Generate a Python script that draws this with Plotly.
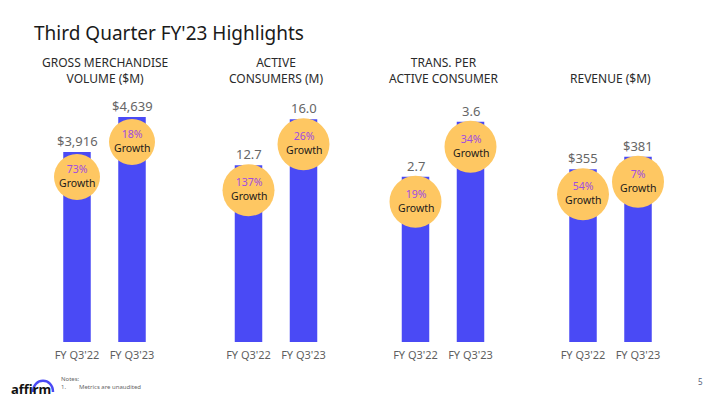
import plotly.graph_objects as go

# ---------------- data ----------------
panel_titles = ["GROSS MERCHANDISE<br>VOLUME ($M)", "ACTIVE<br>CONSUMERS (M)",
                "TRANS. PER<br>ACTIVE CONSUMER", "REVENUE ($M)"]
periods = ["FY Q3'22", "FY Q3'23"]
values = [[3916, 4639], [12.7, 16.0], [2.7, 3.6], [355, 381]]
value_labels = [["$3,916", "$4,639"], ["12.7", "16.0"], ["2.7", "3.6"], ["$355", "$381"]]
growth = [["73%", "18%"], ["137%", "26%"], ["19%", "34%"], ["54%", "7%"]]

# ---------------- style / layout ----------------
W, H = 720, 405
FONT = "Noto Sans"
BAR = "#4a4af5"
BUBBLE = "#fec762"
PURPLE = "#a04be0"
GREY = "#5f5f5f"
x_dom_px = [(49.5, 159.5), (221, 331), (388, 498), (555.5, 665.5)]
y_dom = (1 - 342 / H, 1 - 92 / H)
y_max = [5154, 17.96, 4.085, 514]
radius = [23, 26, 26, 26]
drop = 25  # circle centre below bar top (px)

fig = go.Figure()
shapes = []
annotations = []

for i in range(4):
    sfx = "" if i == 0 else str(i + 1)
    xa, ya = "x" + sfx, "y" + sfx
    fig.add_trace(go.Bar(x=periods, y=values[i], xaxis=xa, yaxis=ya,
                         marker=dict(color=BAR, line=dict(width=0)),
                         width=0.5, hoverinfo="skip", showlegend=False))
    fig.layout["xaxis" + sfx] = dict(domain=[x_dom_px[i][0] / W, x_dom_px[i][1] / W],
                                     anchor=ya, range=[-0.5, 1.5], type="category",
                                     showgrid=False, zeroline=False, showline=False,
                                     ticks="", ticklabelstandoff=5,
                                     tickfont=dict(family=FONT, size=11, color=GREY),
                                     fixedrange=True)
    fig.layout["yaxis" + sfx] = dict(domain=list(y_dom), anchor=xa, range=[0, y_max[i]],
                                     visible=False, fixedrange=True)
    for j in range(2):
        r = radius[i]
        shapes.append(dict(type="circle", xref=xa, yref=ya, xsizemode="pixel",
                           ysizemode="pixel", xanchor=periods[j], yanchor=values[i][j],
                           x0=-r, x1=r, y0=-(drop + r), y1=-(drop - r),
                           fillcolor=BUBBLE, line=dict(width=0), layer="above"))
        annotations.append(dict(x=periods[j], y=values[i][j], xref=xa, yref=ya,
                                text=value_labels[i][j], showarrow=False, yanchor="bottom",
                                yshift=0, font=dict(family=FONT, size=13, color="#666666")))
        annotations.append(dict(x=periods[j], y=values[i][j], xref=xa, yref=ya,
                                text=f"<span style='color:{PURPLE}'>{growth[i][j]}</span><br>Growth",
                                showarrow=False, yanchor="middle", yshift=-(drop - 1),
                                font=dict(family=FONT, size=10.5, color="#1a1a1a")))
    nlines = panel_titles[i].count("<br>") + 1
    yc = 78 - (nlines - 1) * 7.5
    annotations.append(dict(x=(x_dom_px[i][0] + x_dom_px[i][1]) / 2 / W, y=1 - yc / H,
                            xref="paper", yref="paper", text=panel_titles[i], showarrow=False,
                            xanchor="center", yanchor="middle",
                            font=dict(family=FONT, size=12, color="#2a2a2a")))

# title
annotations.append(dict(x=32 / W, y=1 - 33 / H, xref="paper", yref="paper",
                        text="Third Quarter FY'23 Highlights", showarrow=False,
                        xanchor="left", yanchor="middle",
                        font=dict(family=FONT, size=19, color="#1a1a1a")))
# footer
annotations.append(dict(x=9 / W, y=1 - 389 / H, xref="paper", yref="paper",
                        text="<b>affirm</b>", showarrow=False, xanchor="left", yanchor="middle",
                        font=dict(family=FONT, size=13, color="#111111")))
annotations.append(dict(x=59 / W, y=1 - 379 / H, xref="paper", yref="paper",
                        text="Notes:", showarrow=False, xanchor="left", yanchor="middle",
                        font=dict(family=FONT, size=6, color="#666666")))
annotations.append(dict(x=59 / W, y=1 - 387 / H, xref="paper", yref="paper",
                        text="1.", showarrow=False, xanchor="left", yanchor="middle",
                        font=dict(family=FONT, size=6, color="#666666")))
annotations.append(dict(x=77 / W, y=1 - 387 / H, xref="paper", yref="paper",
                        text="Metrics are unaudited", showarrow=False, xanchor="left",
                        yanchor="middle", font=dict(family=FONT, size=6, color="#666666")))
annotations.append(dict(x=700 / W, y=1 - 381 / H, xref="paper", yref="paper",
                        text="5", showarrow=False, xanchor="center", yanchor="middle",
                        font=dict(family=FONT, size=8, color="#55607a")))

# affirm arc
def px(x, y):
    return f"{x / W:.5f},{1 - y / H:.5f}"

arc = f"M {px(33, 392)} C {px(33, 377)} {px(53, 377)} {px(53, 392)}"
shapes.append(dict(type="path", xref="paper", yref="paper", path=arc,
                   line=dict(color=BAR, width=2.5)))

fig.update_layout(width=W, height=H, margin=dict(l=0, r=0, t=0, b=0),
                  paper_bgcolor="white", plot_bgcolor="white",
                  shapes=shapes, annotations=annotations, bargap=0.5)

fig.write_html("out.html", config={"displayModeBar": False},
               post_script="document.body.style.margin='0';document.body.style.overflow='hidden';")
